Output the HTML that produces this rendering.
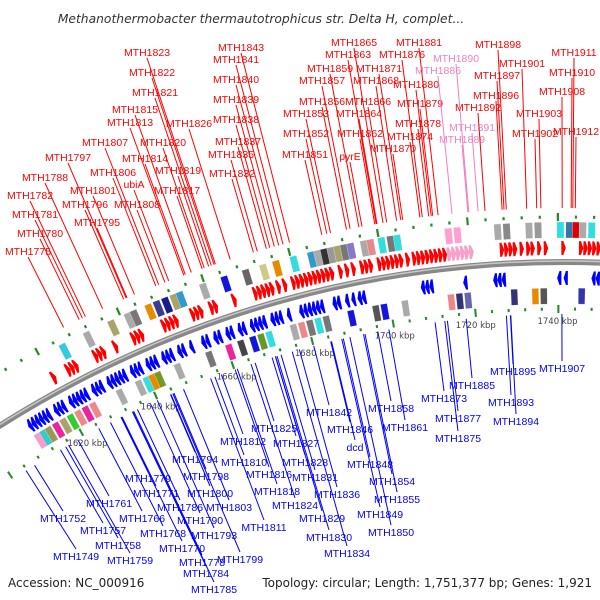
<!DOCTYPE html>
<html><head><meta charset="utf-8"><style>
html,body{margin:0;padding:0;background:#fff;}
svg{display:block;font-family:"Liberation Sans",sans-serif;}
</style></head><body>
<svg id="map" width="600" height="600" viewBox="0 0 600 600" xmlns="http://www.w3.org/2000/svg">
<text x="261" y="23" text-anchor="middle" font-style="italic" font-size="12.3" fill="#333" font-family="DejaVu Sans, sans-serif">Methanothermobacter thermautotrophicus str. Delta H, complet...</text>
<g id="layer"></g>
<text x="8" y="587" font-size="12" fill="#222" font-family="DejaVu Sans, sans-serif">Accession: NC_000916</text>
<text x="592" y="587" text-anchor="end" font-size="12" fill="#222" font-family="DejaVu Sans, sans-serif">Topology: circular; Length: 1,751,377 bp; Genes: 1,921</text>
</svg>
<script>
const fwdGenes=[1620.3,1624,1625,1626,1631,1632,1633,1636,1640.5,1641.5,1642.5,1648,1649,1650,1651,1655,1656,1657,1659.5,1660.5,1665,1670,1671,1672,1673,1674,1675.5,1677,1679,1680,1681,1682,1683,1684,1685,1686,1687,1688,1690,1691.5,1693,1695,1696,1697,1699,1700,1701,1702,1703,1704,1705.5,1707,1708,1709,1710,1711,1712,1713,1714,1727,1728,1729,1730,1731.5,1733,1734,1735.5,1737,1741,1745,1746,1747,1748,1749];
const pinkGenes=[1715,1716,1717,1718,1719,1720];
const revGenes=[1610,1611,1612,1613,1614,1615,1617,1618,1619,1621,1622,1623,1624,1625,1627,1628,1629,1631,1632,1633,1634,1635,1637,1638,1639,1641,1642,1643,1645,1646,1647,1649,1650,1652,1655,1656,1658,1659,1661,1662,1664,1665,1667,1668,1669,1670,1672,1673,1674,1676,1679,1680,1681,1682,1683,1684,1687,1688,1690,1691.5,1693,1694,1708,1709,1710,1718,1725,1726,1727,1740,1741.5,1748,1749];
const fwdBoxPos=[1625,1631,1637,1641,1642.5,1646,1648,1650,1652,1653.5,1659,1664,1669,1673,1676,1680,1684,1685.5,1687,1688.5,1690,1691.5,1693,1696,1697.5,1700,1702,1703.5,1715,1717,1726,1728,1733,1735,1740,1742,1743.5,1745,1747];
const fwdBoxCol=["#33ccdd","#aaaaaa","#a9a36a","#aaaaaa","#777777","#e88a00","#3b3b8f","#1a1a88","#a9a36a","#3399cc","#aaaaaa","#1515dd","#666666","#cccc88","#e88a00","#33dddd","#3399cc","#aaaaaa","#333333","#999999","#a9a36a","#777777","#8877cc","#aaaaaa","#e88888","#33dddd","#777777","#33dddd","#ffa0d0","#ffa0d0","#aaaaaa","#888888","#aaaaaa","#999999","#33dddd","#3377aa","#dd0000","#aaaaaa","#33dddd"];
const revBoxPos=[1610,1611.5,1613,1615,1617,1619,1621,1623,1625,1632,1637,1639,1640.5,1642,1647,1655,1660,1663,1666,1668,1670,1676,1678,1680,1682,1684,1690,1696,1698,1703,1714,1716,1718,1729,1734,1736,1745];
const revBoxCol=["#ff99cc","#33cccc","#999955","#ee2299","#a9a36a","#33cc33","#ee8888","#ee2299","#ee8888","#aaaaaa","#aaaaaa","#33dddd","#e88a00","#779922","#aaaaaa","#777777","#ee2299","#444444","#1515dd","#669922","#33dddd","#aaaaaa","#ee8888","#777777","#33dddd","#777777","#1515dd","#555555","#1515dd","#aaaaaa","#ee8888","#333377","#6666aa","#333377","#e88a00","#555555","#3333aa"];
const tickKbp=[1620,1640,1660,1680,1700,1720,1740];
const tickLabels=["1620 kbp","1640 kbp","1660 kbp","1680 kbp","1700 kbp","1720 kbp","1740 kbp"];
const topNames=["MTH1823","MTH1822","MTH1821","MTH1815","MTH1813","MTH1807","MTH1797","MTH1806","MTH1801","MTH1796","MTH1788","MTH1782","MTH1781","MTH1780","MTH1775","MTH1795","MTH1808","ubiA","MTH1814","MTH1820","MTH1819","MTH1817","MTH1826","MTH1843","MTH1841","MTH1840","MTH1839","MTH1838","MTH1837","MTH1835","MTH1832","MTH1865","MTH1863","MTH1859","MTH1857","MTH1856","MTH1853","MTH1852","MTH1851","MTH1871","MTH1868","MTH1866","MTH1864","MTH1862","pyrE","MTH1876","MTH1881","MTH1880","MTH1879","MTH1878","MTH1874","MTH1870","MTH1890","MTH1886","MTH1891","MTH1889","MTH1898","MTH1901","MTH1897","MTH1896","MTH1892","MTH1903","MTH1902","MTH1911","MTH1910","MTH1908","MTH1912"];
const topX=[147,152,155,135,130,105,68,113,93,85,45,30,35,40,28,97,137,134,145,163,178,177,189,241,236,236,236,236,238,231,232,354,348,330,322,322,306,306,305,379,376,368,359,360,350,402,419,416,420,418,410,393,456,438,472,462,498,522,497,496,478,539,535,574,572,562,576];
const topY=[52,72,92,109,122,142,157,172,190,204,177,195,214,233,251,222,204,184,158,142,170,190,123,47,59,79,99,119,141,154,173,42,54,68,80,101,113,133,154,68,80,101,113,133,156,54,42,84,103,123,136,148,58,70,127,139,44,63,75,95,107,113,133,52,72,91,131];
const pinkSet=["MTH1890","MTH1886","MTH1891","MTH1889"];
const botNames=["MTH1907","MTH1895","MTH1885","MTH1893","MTH1894","MTH1873","MTH1877","MTH1875","MTH1858","MTH1861","MTH1842","MTH1846","dcd","MTH1848","MTH1854","MTH1855","MTH1849","MTH1850","MTH1836","MTH1829","MTH1830","MTH1834","MTH1831","MTH1828","MTH1827","MTH1825","MTH1824","MTH1818","MTH1816","MTH1812","MTH1810","MTH1811","MTH1803","MTH1800","MTH1798","MTH1794","MTH1779","MTH1771","MTH1786","MTH1790","MTH1793","MTH1766","MTH1768","MTH1770","MTH1799","MTH1778","MTH1784","MTH1785","MTH1761","MTH1752","MTH1757","MTH1758","MTH1759","MTH1749"];
const botX=[562,513,472,511,516,444,458,458,391,405,329,350,355,370,392,397,380,391,337,322,329,347,315,305,296,274,295,277,269,243,244,264,229,210,206,195,148,156,180,200,214,142,163,182,240,202,206,214,109,63,103,118,130,76];
const botY=[368,371,385,402,421,398,418,438,408,427,412,429,447,464,481,499,514,532,494,518,537,553,477,462,443,428,505,491,474,441,462,527,507,493,476,459,478,493,507,520,535,518,533,548,559,562,573,589,503,518,530,545,560,556];

const CX=564, CY=1316, R=1054, NS="http://www.w3.org/2000/svg";
const layer=document.getElementById('layer');
function ang(k){return -0.501+(k-1620)*0.00412;}
function pt(a,r){return [CX+r*Math.sin(a), CY-r*Math.cos(a)];}
function mk(tag,attrs){const e=document.createElementNS(NS,tag);for(const k in attrs)e.setAttribute(k,attrs[k]);layer.appendChild(e);return e;}
function seg(k0,k1,r0,r1){const a0=ang(k0),a1=ang(k1);const p=[pt(a0,r0),pt(a1,r0),pt(a1,r1),pt(a0,r1)];return p.map(q=>q[0].toFixed(1)+','+q[1].toFixed(1)).join(' ');}
function arrow(k,len,r0,r1,dir){const a0=ang(k),a1=ang(k+len),am=(r0+r1)/2;let p;
 if(dir>0){const ab=ang(k+len*0.45);p=[pt(a0,r0),pt(ab,r0),pt(a1,am),pt(ab,r1),pt(a0,r1)];}
 else{const ab=ang(k+len*0.55);p=[pt(a1,r0),pt(ab,r0),pt(a0,am),pt(ab,r1),pt(a1,r1)];}
 return p.map(q=>q[0].toFixed(1)+','+q[1].toFixed(1)).join(' ');}

const a0=-0.62,a1=0.08;
const bp=pt(a0,R),ep=pt(a1,R);
let e=mk('path',{d:`M${bp[0]},${bp[1]} A${R},${R} 0 0 1 ${ep[0]},${ep[1]}`,fill:'none',stroke:'#888',"stroke-width":6});


e=mk('path',{d:`M${pt(a0,R+1)[0]},${pt(a0,R+1)[1]} A${R+1},${R+1} 0 0 1 ${pt(a1,R+1)[0]},${pt(a1,R+1)[1]}`,fill:'none',stroke:'#c8c8c8',"stroke-width":1.5});



for(let k=1600;k<=1752;k+=4){
 const big=(k%20===0);
 [R+45,R-47].forEach(r=>{const t=mk('polygon',{points:seg(k,k+0.5,r-(big?4:1.5),r+(big?4:1.5)),fill:'#2a8a2a'});
 
 });
}
fwdGenes.forEach(k=>{const g=mk('polygon',{points:arrow(k,1.0,R+7,R+21,1),fill:'#ff0000'});
 
 });
pinkGenes.forEach(k=>{const g=mk('polygon',{points:arrow(k,1.1,R+7,R+21,1),fill:'#f7a0cc'});
 
 });
revGenes.forEach(k=>{const g=mk('polygon',{points:arrow(k,1.0,R-23,R-9,-1),fill:'#0000ff'});
 
 });
fwdBoxPos.forEach((k,i)=>{const b=mk('polygon',{points:seg(k,k+1.6,R+24,R+40),fill:fwdBoxCol[i],stroke:'#fff',"stroke-width":0.3});
 
 });
revBoxPos.forEach((k,i)=>{const b=mk('polygon',{points:seg(k,k+1.6,R-42,R-26),fill:revBoxCol[i],stroke:'#fff',"stroke-width":0.3});
 
 });
tickKbp.forEach((k,i)=>{const p=pt(ang(k),R-62);const t=mk('text',{x:p[0].toFixed(1),y:p[1].toFixed(1),"font-size":8.5,fill:'#444',"text-anchor":'middle',"font-family":'DejaVu Sans, sans-serif'});t.textContent=tickLabels[i];
 
 });
function radialEnd(x,y,r){const dx=x-CX,dy=y-CY,d=Math.hypot(dx,dy);return [CX+dx/d*r,CY+dy/d*r];}
topNames.forEach((n,i)=>{const col=pinkSet.includes(n)?'#f080c0':'#ff0000';
 const x=topX[i],y=topY[i];const q=radialEnd(x,y+6,R+54);
 const l=mk('line',{x1:x,y1:y+6,x2:q[0].toFixed(1),y2:q[1].toFixed(1),stroke:col,"stroke-width":1});
 
 
 const t=mk('text',{x:x,y:y+4,"font-size":10.5,fill:col,"text-anchor":'middle'});t.textContent=n;
 
 });
botNames.forEach((n,i)=>{const x=botX[i],y=botY[i];const q=radialEnd(x,y-7,R-52);
 const l=mk('line',{x1:q[0].toFixed(1),y1:q[1].toFixed(1),x2:x,y2:y-7,stroke:'#0000ff',"stroke-width":1});
 
 
 const t=mk('text',{x:x,y:y+4,"font-size":10.5,fill:'#0000ff',"text-anchor":'middle'});t.textContent=n;
 
 });
</script>
</body></html>
